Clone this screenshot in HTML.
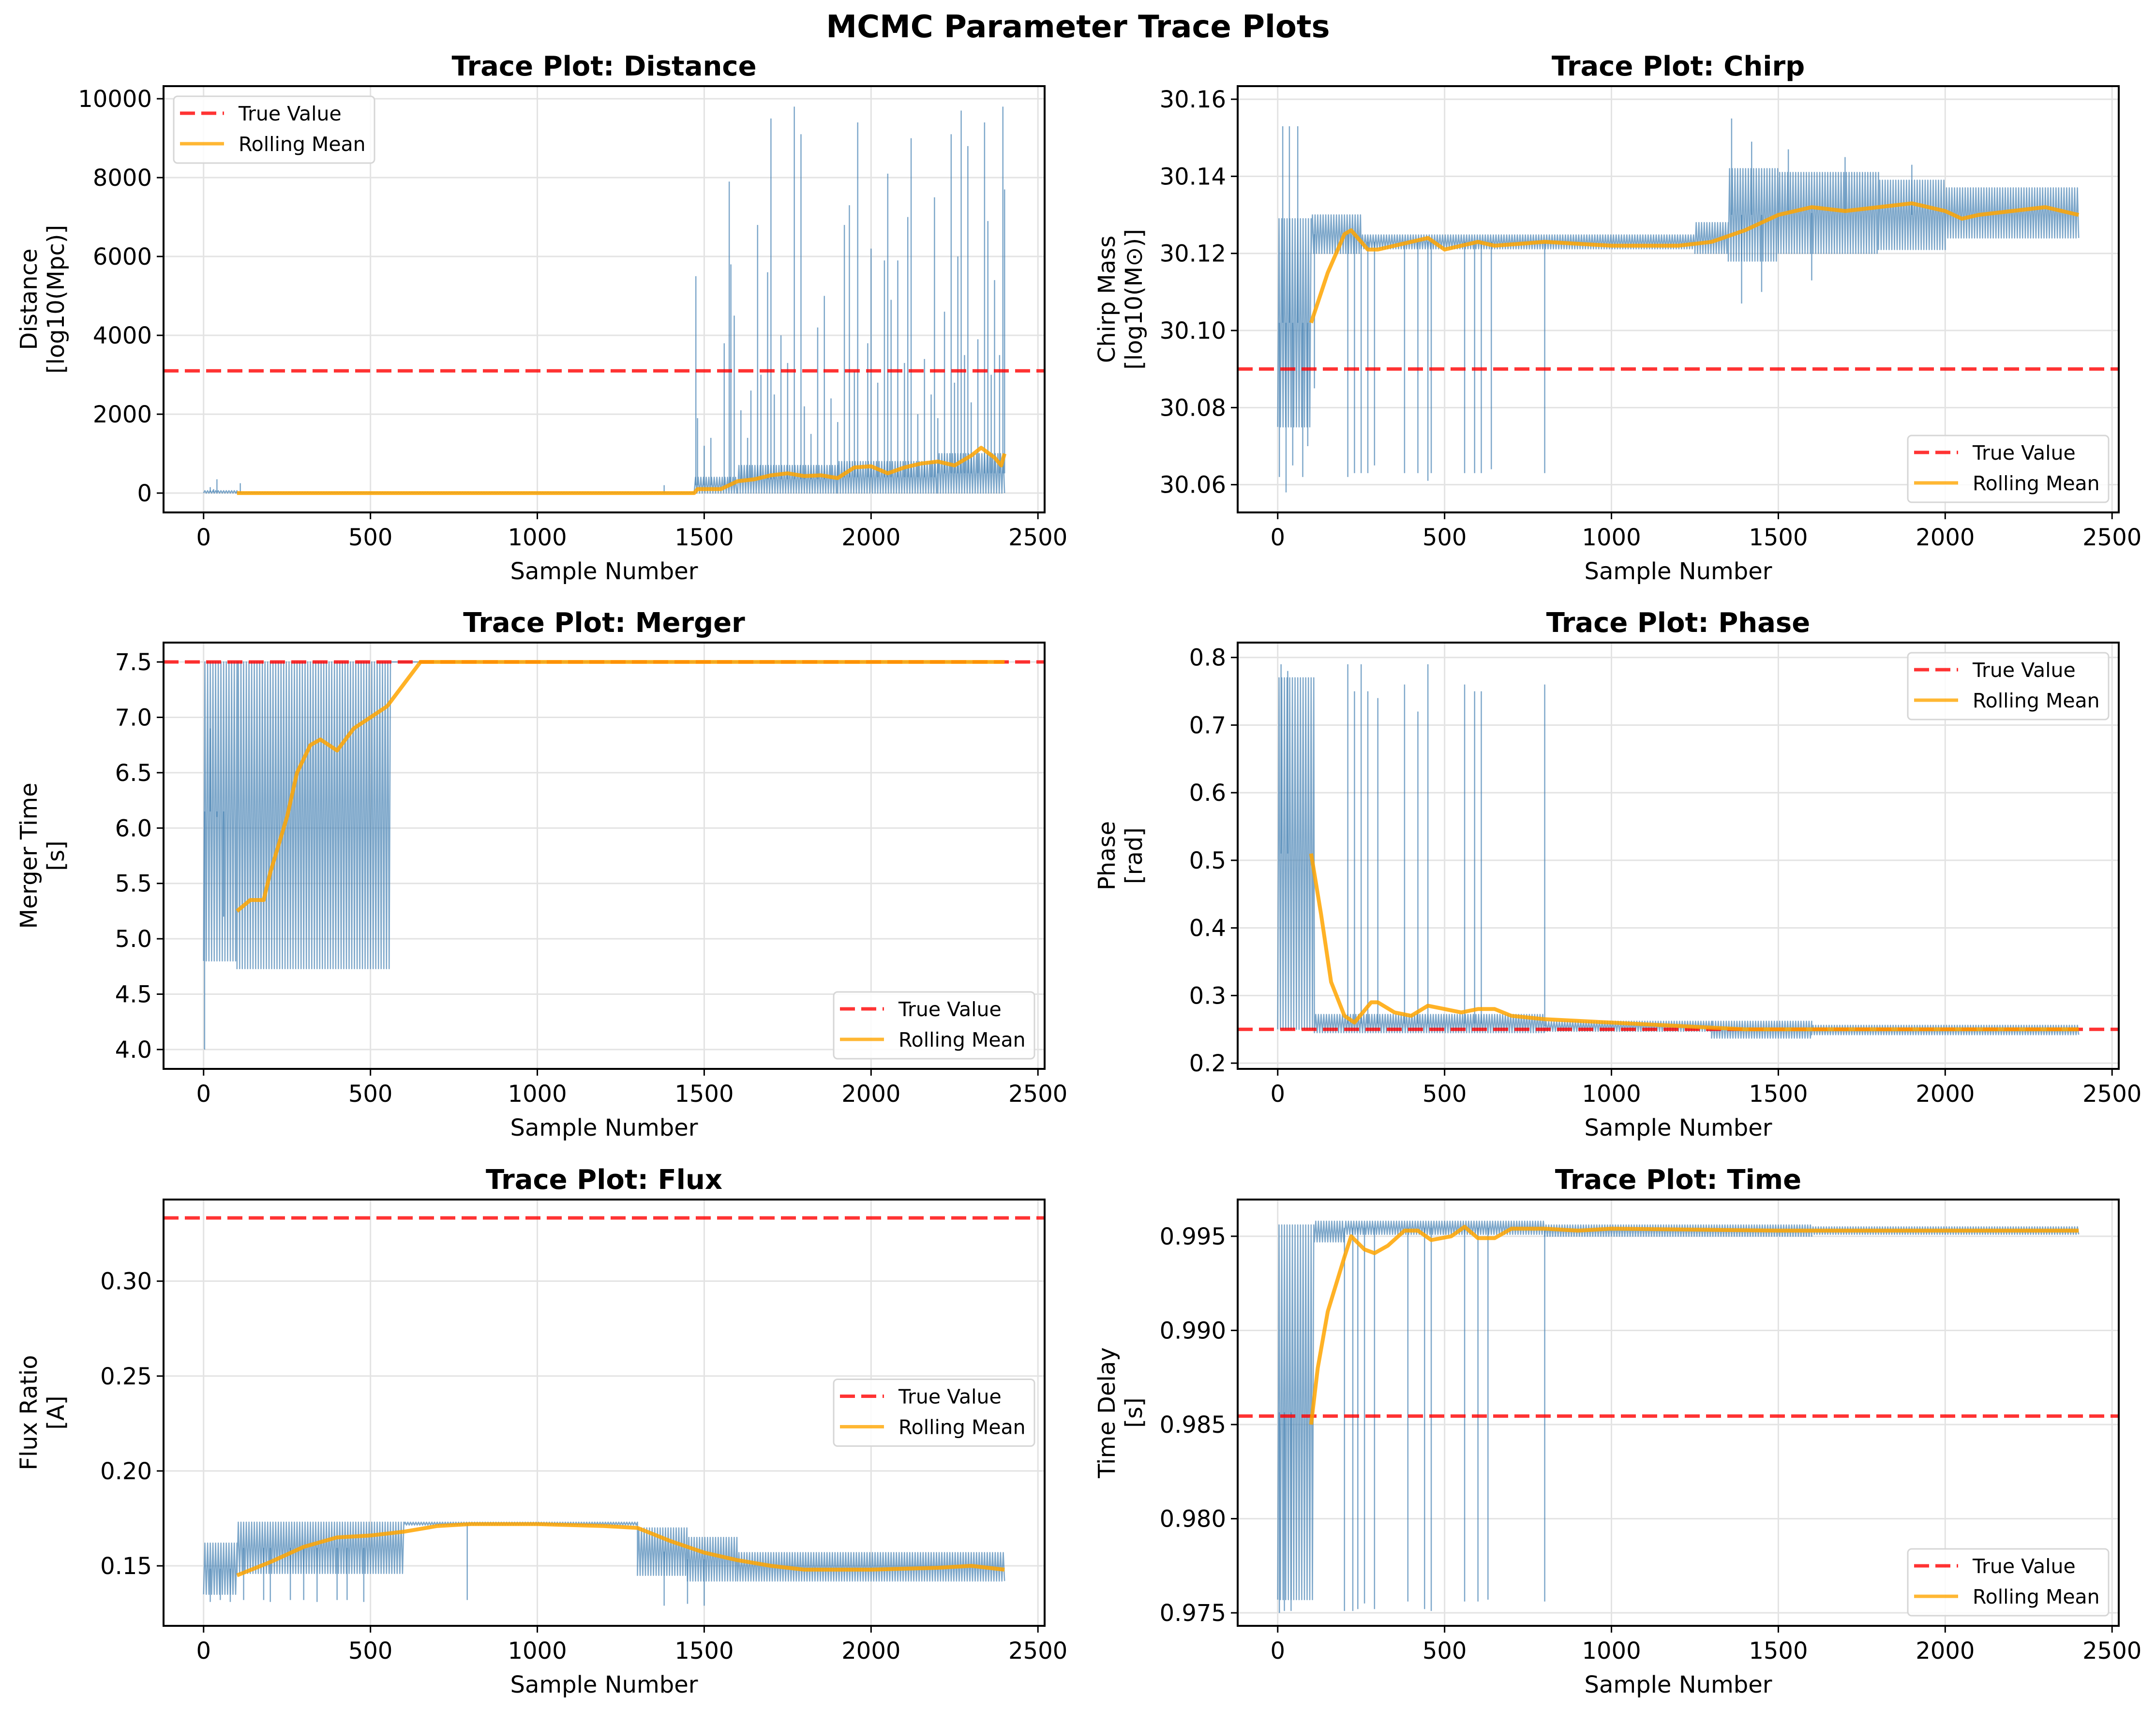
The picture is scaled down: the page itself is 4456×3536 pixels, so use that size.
<!DOCTYPE html>
<html><head><meta charset="utf-8"><title>MCMC Parameter Trace Plots</title>
<style>
html,body{margin:0;padding:0;background:#fff;}
svg text{font-family:"DejaVu Sans","Liberation Sans",sans-serif;}
</style></head>
<body>
<svg id="fig" xmlns="http://www.w3.org/2000/svg" width="4456" height="3531" viewBox="0 0 4456 3531">
<rect x="0" y="0" width="4456" height="3531" fill="#fff"/>
<text x="2228" y="77" text-anchor="middle" font-size="64" font-weight="bold">MCMC Parameter Trace Plots</text>
</svg>
<script>
// ---------- data ----------
const xTicks = [0, 500, 1000, 1500, 2000, 2500];

// Distance
const distYTicks = [0, 2000, 4000, 6000, 8000, 10000];
const distTrue = 3100;
const distBandStart = [0, 100, 1470, 1600, 1900, 2200];
const distBandEnd   = [100, 1470, 1600, 1900, 2200, 2400];
const distBandLo    = [0, 0, 0, 0, 0, 0];
const distBandHi    = [60, 15, 400, 700, 800, 1000];
const distSpikeX = [20,30,40,110,1380,1475,1480,1500,1520,1560,1575,1580,1590,1610,1630,1640,1660,1670,1690,1700,1710,1730,1750,1770,1790,1800,1820,1840,1860,1880,1900,1920,1935,1950,1960,1990,2000,2020,2040,2050,2060,2080,2100,2110,2120,2140,2160,2180,2190,2200,2220,2240,2250,2260,2270,2280,2290,2300,2320,2340,2350,2360,2370,2385,2395,2400];
const distSpikeY = [150,100,350,250,200,5500,1900,1200,1400,3800,7900,5800,4500,2100,1400,2600,6800,3000,5600,9500,2500,4000,3300,9800,9100,2200,1500,4200,5000,2400,1800,6800,7300,3100,9400,3800,6200,2800,5900,8100,4900,5900,3300,7000,9000,2000,3400,2500,7500,1900,4600,9100,2800,6000,9700,3500,8800,2300,3900,9400,6900,3000,5400,3500,9800,7700];
const distRollX = [100,1470,1480,1550,1600,1650,1700,1750,1800,1850,1900,1950,2000,2050,2100,2150,2200,2250,2300,2330,2370,2390,2400];
const distRollY = [0,0,100,100,300,350,450,500,430,450,380,650,680,500,650,750,800,700,950,1150,900,700,1000];

// Chirp
const chirpYTicks = [30.06, 30.08, 30.10, 30.12, 30.14, 30.16];
const chirpTrue = 30.09;
const chirpBandStart = [0, 100, 250, 1250, 1350, 1500, 1800, 2000];
const chirpBandEnd   = [100, 250, 1250, 1350, 1500, 1800, 2000, 2400];
const chirpBandLo    = [30.075, 30.12, 30.1212, 30.12, 30.118, 30.12, 30.121, 30.124];
const chirpBandHi    = [30.129, 30.13, 30.1248, 30.128, 30.142, 30.141, 30.139, 30.137];
const chirpSpikeX = [5,15,25,35,45,60,75,90,110,210,230,250,270,290,380,420,450,460,560,590,610,640,800,1360,1390,1420,1450,1530,1600,1700,1900];
const chirpSpikeY = [30.062,30.153,30.058,30.153,30.065,30.153,30.062,30.07,30.085,30.062,30.063,30.063,30.063,30.065,30.063,30.063,30.061,30.063,30.063,30.063,30.063,30.064,30.063,30.155,30.107,30.149,30.11,30.147,30.113,30.145,30.143];
const chirpRollX = [100,150,200,220,270,300,400,450,500,600,650,800,1000,1200,1300,1400,1500,1600,1700,1800,1900,2000,2050,2100,2200,2300,2400];
const chirpRollY = [30.102,30.115,30.125,30.126,30.121,30.121,30.123,30.124,30.121,30.123,30.122,30.123,30.122,30.122,30.123,30.126,30.130,30.132,30.131,30.132,30.133,30.131,30.129,30.130,30.131,30.132,30.130];

// Merger
const mergYTicks = [4.0, 4.5, 5.0, 5.5, 6.0, 6.5, 7.0, 7.5];
const mergTrue = 7.5;
const mergBandStart = [0, 100, 560];
const mergBandEnd   = [100, 560, 2400];
const mergBandLo    = [4.8, 4.73, 7.5];
const mergBandHi    = [7.5, 7.5, 7.5];
const mergSpikeX = [3, 20, 40, 60];
const mergSpikeY = [4.0, 6.9, 6.1, 5.2];
const mergRollX = [100,140,180,200,250,280,320,350,400,450,500,550,600,650,2400];
const mergRollY = [5.25,5.35,5.35,5.6,6.1,6.5,6.75,6.8,6.7,6.9,7.0,7.1,7.3,7.5,7.5];

// Phase
const phaseYTicks = [0.2, 0.3, 0.4, 0.5, 0.6, 0.7, 0.8];
const phaseTrue = 0.25;
const phaseBandStart = [0, 110, 800, 1300, 1600];
const phaseBandEnd   = [110, 800, 1300, 1600, 2400];
const phaseBandLo    = [0.25, 0.245, 0.247, 0.237, 0.242];
const phaseBandHi    = [0.77, 0.272, 0.262, 0.262, 0.256];
const phaseSpikeX = [210,230,250,270,300,380,420,450,560,590,610,800,10,30];
const phaseSpikeY = [0.79,0.75,0.79,0.75,0.74,0.76,0.72,0.79,0.76,0.75,0.75,0.76,0.79,0.78];
const phaseRollX = [100,130,160,200,230,280,300,350,400,450,500,550,600,650,700,800,1000,1200,1400,1600,2000,2400];
const phaseRollY = [0.51,0.42,0.32,0.27,0.26,0.29,0.29,0.275,0.27,0.285,0.28,0.275,0.28,0.28,0.27,0.265,0.26,0.255,0.25,0.25,0.25,0.25];

// Flux
const fluxYTicks = [0.15, 0.20, 0.25, 0.30];
const fluxTrue = 0.3333;
const fluxBandStart = [0, 100, 600, 1300, 1450, 1600];
const fluxBandEnd   = [100, 600, 1300, 1450, 1600, 2400];
const fluxBandLo    = [0.135, 0.146, 0.1715, 0.145, 0.142, 0.142];
const fluxBandHi    = [0.162, 0.173, 0.173, 0.17, 0.165, 0.157];
const fluxSpikeX = [20,50,80,120,180,200,260,300,340,400,430,480,790,1380,1450,1500];
const fluxSpikeY = [0.131,0.132,0.131,0.132,0.132,0.131,0.132,0.132,0.131,0.132,0.132,0.131,0.132,0.129,0.13,0.129];
const fluxRollX = [100,200,300,400,500,600,700,800,1000,1200,1300,1400,1500,1600,1700,1800,2000,2200,2300,2400];
const fluxRollY = [0.145,0.152,0.160,0.165,0.166,0.168,0.171,0.172,0.172,0.171,0.170,0.163,0.157,0.153,0.150,0.148,0.148,0.149,0.150,0.148];

// Time
const timeYTicks = [0.975, 0.980, 0.985, 0.990, 0.995];
const timeTrue = 0.98545;
const timeBandStart = [0, 110, 200, 800, 1600];
const timeBandEnd   = [110, 200, 800, 1600, 2400];
const timeBandLo    = [0.9757, 0.9947, 0.9951, 0.9950, 0.9951];
const timeBandHi    = [0.9956, 0.9958, 0.9958, 0.9956, 0.9955];
const timeSpikeX = [5,20,40,200,225,240,260,290,390,440,460,560,600,630,800];
const timeSpikeY = [0.9750,0.9751,0.9751,0.9751,0.9751,0.9752,0.9755,0.9752,0.9756,0.9752,0.9751,0.9756,0.9756,0.9757,0.9756];
const timeRollX = [100,120,150,200,220,260,290,330,380,420,460,520,560,600,650,700,800,900,1000,1500,2000,2400];
const timeRollY = [0.985,0.988,0.991,0.9939,0.995,0.9943,0.9941,0.9945,0.9953,0.9953,0.9948,0.995,0.9955,0.9949,0.9949,0.9954,0.9954,0.9953,0.9954,0.9953,0.9953,0.9953];

// ---------- drawing ----------
const NS = 'http://www.w3.org/2000/svg';
const svg = document.getElementById('fig');
function mk(tag, attrs, parent) {
  const e = document.createElementNS(NS, tag);
  for (const k in attrs) e.setAttribute(k, attrs[k]);
  (parent || svg).appendChild(e);
  return e;
}
const AX_W = 1821, AX_H = 881;
const panels = [
  {key:'distance', title:'Trace Plot: Distance', l1:'Distance', l2:'[log10(Mpc)]', x0:338, y0:178, ymin:-491, ymax:10320, ticks:distYTicks, fmt:v=>String(v), tv:distTrue, bs:distBandStart, be:distBandEnd, bl:distBandLo, bh:distBandHi, sx:distSpikeX, sy:distSpikeY, rx:distRollX, ry:distRollY, leg:'ul'},
  {key:'chirp', title:'Trace Plot: Chirp', l1:'Chirp Mass', l2:'[log10(M\u2299)]', x0:2558, y0:178, ymin:30.0528, ymax:30.1634, ticks:chirpYTicks, fmt:v=>v.toFixed(2), tv:chirpTrue, bs:chirpBandStart, be:chirpBandEnd, bl:chirpBandLo, bh:chirpBandHi, sx:chirpSpikeX, sy:chirpSpikeY, rx:chirpRollX, ry:chirpRollY, leg:'lr'},
  {key:'merger', title:'Trace Plot: Merger', l1:'Merger Time', l2:'[s]', x0:338, y0:1328, ymin:3.825, ymax:7.675, ticks:mergYTicks, fmt:v=>v.toFixed(1), tv:mergTrue, bs:mergBandStart, be:mergBandEnd, bl:mergBandLo, bh:mergBandHi, sx:mergSpikeX, sy:mergSpikeY, rx:mergRollX, ry:mergRollY, leg:'lr'},
  {key:'phase', title:'Trace Plot: Phase', l1:'Phase', l2:'[rad]', x0:2558, y0:1328, ymin:0.1915, ymax:0.822, ticks:phaseYTicks, fmt:v=>v.toFixed(1), tv:phaseTrue, bs:phaseBandStart, be:phaseBandEnd, bl:phaseBandLo, bh:phaseBandHi, sx:phaseSpikeX, sy:phaseSpikeY, rx:phaseRollX, ry:phaseRollY, leg:'ur'},
  {key:'flux', title:'Trace Plot: Flux', l1:'Flux Ratio', l2:'[A]', x0:338, y0:2479, ymin:0.1184, ymax:0.343, ticks:fluxYTicks, fmt:v=>v.toFixed(2), tv:fluxTrue, bs:fluxBandStart, be:fluxBandEnd, bl:fluxBandLo, bh:fluxBandHi, sx:fluxSpikeX, sy:fluxSpikeY, rx:fluxRollX, ry:fluxRollY, leg:'cr'},
  {key:'time', title:'Trace Plot: Time', l1:'Time Delay', l2:'[s]', x0:2558, y0:2479, ymin:0.97431, ymax:0.99695, ticks:timeYTicks, fmt:v=>v.toFixed(3), tv:timeTrue, bs:timeBandStart, be:timeBandEnd, bl:timeBandLo, bh:timeBandHi, sx:timeSpikeX, sy:timeSpikeY, rx:timeRollX, ry:timeRollY, leg:'lr'}
];
const XMIN = -120, XMAX = 2520;

panels.forEach(p => {
  const g = mk('g', {});
  
  
  const xs = v => p.x0 + (v - XMIN) / (XMAX - XMIN) * AX_W;
  const ys = v => p.y0 + AX_H - (v - p.ymin) / (p.ymax - p.ymin) * AX_H;
  const cx = p.x0 + AX_W / 2;
  const clipId = 'clip-' + p.key;
  const cp = mk('clipPath', {id: clipId}, g);
  mk('rect', {x: p.x0, y: p.y0, width: AX_W, height: AX_H}, cp);

  xTicks.forEach(t => {
    const l = mk('line', {x1: xs(t), x2: xs(t), y1: p.y0, y2: p.y0 + AX_H, stroke: '#e3e3e3', 'stroke-width': 3}, g);
    
    
  });
  p.ticks.forEach(t => {
    const l = mk('line', {x1: p.x0, x2: p.x0 + AX_W, y1: ys(t), y2: ys(t), stroke: '#e3e3e3', 'stroke-width': 3}, g);
    
    
  });

  const plot = mk('g', {'clip-path': 'url(#' + clipId + ')'}, g);
  let d = '';
  for (let i = 0; i < p.bs.length; i++) {
    const step = 4;
    let k = 0;
    for (let s = p.bs[i]; s <= p.be[i]; s += step, k++) {
      const v = (k % 2 === 0) ? p.bl[i] : p.bh[i];
      d += (d === '' ? 'M' : 'L') + xs(s).toFixed(1) + ' ' + ys(v).toFixed(1) + ' ';
    }
  }
  const tr = mk('path', {d: d, fill: 'none', stroke: '#4682b4', 'stroke-opacity': 0.7, 'stroke-width': 2.5, 'stroke-linejoin': 'round'}, plot);
  
  
  p.sx.forEach((sx, i) => {
    let bi = 0;
    for (let j = 0; j < p.bs.length; j++) if (sx >= p.bs[j] && sx <= p.be[j]) bi = j;
    const base = (p.bl[bi] + p.bh[bi]) / 2;
    const sp = mk('line', {x1: xs(sx), x2: xs(sx), y1: ys(base), y2: ys(p.sy[i]), stroke: '#4682b4', 'stroke-opacity': 0.7, 'stroke-width': 2.5}, plot);
    
    
  });
  const tl = mk('line', {x1: p.x0, x2: p.x0 + AX_W, y1: ys(p.tv), y2: ys(p.tv), stroke: '#ff0000', 'stroke-opacity': 0.8, 'stroke-width': 7, 'stroke-dasharray': '31 13'}, plot);
  
  
  const rd = p.rx.map((x, i) => (i ? 'L' : 'M') + xs(x).toFixed(1) + ' ' + ys(p.ry[i]).toFixed(1)).join(' ');
  const rl = mk('path', {d: rd, fill: 'none', stroke: '#ffa500', 'stroke-opacity': 0.85, 'stroke-width': 8, 'stroke-linejoin': 'round'}, plot);
  
  

  const fr = mk('rect', {x: p.x0, y: p.y0, width: AX_W, height: AX_H, fill: 'none', stroke: '#000', 'stroke-width': 4}, g);
  
  

  xTicks.forEach(t => {
    mk('line', {x1: xs(t), x2: xs(t), y1: p.y0 + AX_H, y2: p.y0 + AX_H + 14, stroke: '#000', 'stroke-width': 3}, g);
    const tx = mk('text', {x: xs(t), y: p.y0 + AX_H + 68, 'text-anchor': 'middle', 'font-size': 48}, g);
    tx.textContent = String(t);
    
    
  });
  p.ticks.forEach(t => {
    mk('line', {x1: p.x0 - 14, x2: p.x0, y1: ys(t), y2: ys(t), stroke: '#000', 'stroke-width': 3}, g);
    const ty = mk('text', {x: p.x0 - 24, y: ys(t) + 17, 'text-anchor': 'end', 'font-size': 48}, g);
    ty.textContent = p.fmt(t);
    
    
  });

  const tt = mk('text', {x: cx, y: p.y0 - 22, 'text-anchor': 'middle', 'font-size': 56, 'font-weight': 'bold'}, g);
  tt.textContent = p.title;
  
  
  const xl = mk('text', {x: cx, y: p.y0 + AX_H + 138, 'text-anchor': 'middle', 'font-size': 48}, g);
  xl.textContent = 'Sample Number';
  
  
  const lx = p.x0 - (p.x0 < 1000 ? 262 : 254);
  const ly = p.y0 + AX_H / 2;
  const yl = mk('text', {x: lx, y: ly, 'text-anchor': 'middle', 'font-size': 48, transform: 'rotate(-90 ' + lx + ' ' + ly + ')'}, g);
  
  
  const s1 = mk('tspan', {x: lx, dy: 0}, yl); s1.textContent = p.l1;
  const s2 = mk('tspan', {x: lx, dy: 56}, yl); s2.textContent = p.l2;

  const LW = 415, LH = 138;
  let lxp, lyp;
  if (p.leg === 'ul') { lxp = p.x0 + 21; lyp = p.y0 + 21; }
  else if (p.leg === 'ur') { lxp = p.x0 + AX_W - 21 - LW; lyp = p.y0 + 21; }
  else if (p.leg === 'lr') { lxp = p.x0 + AX_W - 21 - LW; lyp = p.y0 + AX_H - 21 - LH; }
  else { lxp = p.x0 + AX_W - 21 - LW; lyp = p.y0 + AX_H / 2 - LH / 2; }
  const lg = mk('g', {}, g);
  
  
  mk('rect', {x: lxp, y: lyp, width: LW, height: LH, rx: 8, fill: '#fff', 'fill-opacity': 0.85, stroke: '#d6d6d6', 'stroke-width': 3}, lg);
  const e1 = mk('g', {}, lg);
  
  
  mk('line', {x1: lxp + 13, x2: lxp + 104, y1: lyp + 35, y2: lyp + 35, stroke: '#ff0000', 'stroke-opacity': 0.8, 'stroke-width': 7, 'stroke-dasharray': '31 13'}, e1);
  const t1 = mk('text', {x: lxp + 134, y: lyp + 50, 'font-size': 41}, e1); t1.textContent = 'True Value';
  const e2 = mk('g', {}, lg);
  
  
  mk('line', {x1: lxp + 13, x2: lxp + 104, y1: lyp + 98, y2: lyp + 98, stroke: '#ffa500', 'stroke-opacity': 0.8, 'stroke-width': 7}, e2);
  const t2 = mk('text', {x: lxp + 134, y: lyp + 113, 'font-size': 41}, e2); t2.textContent = 'Rolling Mean';
});
</script>
</body></html>
